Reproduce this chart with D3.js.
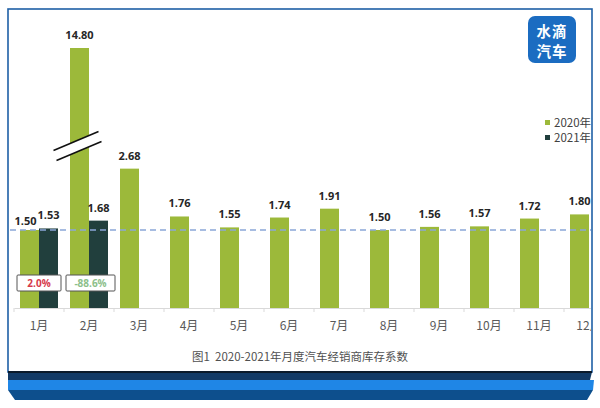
<!DOCTYPE html>
<html><head><meta charset="utf-8">
<script src="https://cdn.jsdelivr.net/npm/d3@7"></script>
<style>
html,body{margin:0;padding:0;background:#fff;}
svg{display:block;font-family:"Open Sans","Noto Sans CJK SC",sans-serif;}
</style></head>
<body><svg id="c" width="600" height="408"></svg>
<script>
const months = ["1月","2月","3月","4月","5月","6月","7月","8月","9月","10月","11月","12月"];
const series = ["2020年","2021年"];
const values2020 = [1.50,14.80,2.68,1.76,1.55,1.74,1.91,1.50,1.56,1.57,1.72,1.80];
const values2021 = [1.53,1.68,null,null,null,null,null,null,null,null,null,null];
const yoyLabels = ["2.0%","-88.6%"];
const yoyColors = ["#d63a4a","#8cc08a"];
const refValue = 1.5;
const colors = ["#9cb93a","#213f3d"];
const caption = "图1  2020-2021年月度汽车经销商库存系数";

const svg = d3.select("#c");
const baseY = 308;

// broken (piecewise) value scale: normal part up to 3.0, compressed above
const y = d3.scaleLinear().domain([0, 3.0, 14.8]).range([baseY, baseY - 3.0*52, 48]);
const x0 = d3.scaleBand().domain(months).range([14, 614]).padding(0);
const x1 = d3.scaleBand().domain(series).range([6, 44]).padding(0);

// frame
svg.append("rect").attr("x",8).attr("y",9).attr("width",584).attr("height",363)
  .attr("fill","#fff").attr("stroke","#1f5fa6").attr("stroke-width",1.6);

// bottom decorative bands
svg.append("path").attr("d","M8,372 L592,372 L590,380 L8,380 Z").attr("fill","#123a66");
svg.append("rect").attr("x",8).attr("y",371).attr("width",584).attr("height",2).attr("fill","#0b1a2a");
svg.append("path").attr("d","M8,380 L594,380 L593,390 L8,390 Z").attr("fill","#1f86e6");
svg.append("path").attr("d","M8,390 L593,390 L587,400 L15,400 Z").attr("fill","#0d4f8d");

const defs = svg.append("defs");
defs.append("clipPath").attr("id","clip").append("rect").attr("x",9).attr("y",10).attr("width",582).attr("height",361);
const g = svg.append("g").attr("clip-path","url(#clip)");

// axis
const axis = d3.axisBottom(x0).tickSize(0).tickPadding(13);
const ax = g.append("g").attr("transform",`translate(0,${baseY})`).call(axis);
ax.select(".domain").attr("stroke","#d9d9d9").attr("stroke-width",1);
ax.selectAll("text").attr("fill","#595959").attr("font-size",12).attr("font-family","'Noto Sans CJK SC','Open Sans',sans-serif");
// category boundary ticks
g.append("g").selectAll("line").data(months).join("line")
  .attr("x1",d=>x0(d)).attr("x2",d=>x0(d)).attr("y1",baseY).attr("y2",baseY+4)
  .attr("stroke","#d9d9d9");

// bars
const data = [];
months.forEach((m,i)=>{
  if(values2020[i]!=null) data.push({m, s:series[0], v:values2020[i], c:colors[0]});
  if(values2021[i]!=null) data.push({m, s:series[1], v:values2021[i], c:colors[1]});
});
g.append("g").selectAll("rect").data(data).join("rect")
  .attr("x",d=>x0(d.m)+x1(d.s)).attr("width",x1.bandwidth())
  .attr("y",d=>y(d.v)).attr("height",d=>baseY-y(d.v)).attr("fill",d=>d.c);

// break symbol on Feb 2020 bar
const bx = x0("2月")+x1("2020年")+x1.bandwidth()/2;
const by = y(4.2);
const bk = g.append("g").attr("transform",`translate(${bx},${by})`);
bk.append("path").attr("d","M-26,9 L19,-10 L22,0 L-23,19 Z").attr("fill","#fff");
bk.append("line").attr("x1",-26).attr("y1",9).attr("x2",19).attr("y2",-10).attr("stroke","#111").attr("stroke-width",1.6);
bk.append("line").attr("x1",-23).attr("y1",19).attr("x2",22).attr("y2",0).attr("stroke","#111").attr("stroke-width",1.6);

// reference dashed line
g.append("line").attr("x1",10).attr("x2",592).attr("y1",y(refValue)).attr("y2",y(refValue))
  .attr("stroke","#8aa6d8").attr("stroke-width",1.6).attr("stroke-dasharray","6,4");

// value labels
g.append("g").selectAll("text").data(data).join("text")
  .attr("x",d=>x0(d.m)+x1(d.s)+x1.bandwidth()/2 + (d.m==="1月"&&d.s==="2020年"?-4:0))
  .attr("y",d=>y(d.v)-(d.m==="1月"&&d.s==="2020年"?5:9))
  .attr("text-anchor","middle").attr("font-size",11).attr("font-weight","bold").attr("fill","#262626")
  .text(d=>d.v.toFixed(2));

// YoY boxes
const yo = g.append("g").selectAll("g").data(yoyLabels).join("g")
  .attr("transform",(d,i)=>`translate(${x0(months[i])+x0.bandwidth()/2 + (i===1?1.5:0)},283)`);
yo.append("rect").attr("x",(d,i)=>i===1?-24.5:-22).attr("y",-8).attr("width",(d,i)=>i===1?49:44).attr("height",16)
  .attr("fill","#fff").attr("stroke","#555").attr("stroke-width",1).attr("rx",1);
yo.append("text").attr("text-anchor","middle").attr("dy","0.35em").attr("font-size",10).attr("font-weight","bold")
  .attr("fill",(d,i)=>yoyColors[i]).text(d=>d);

// legend
const lg = g.append("g").selectAll("g").data(series).join("g")
  .attr("transform",(d,i)=>`translate(545,${123+i*15})`);
lg.append("rect").attr("x",0).attr("y",-3).attr("width",5).attr("height",5).attr("fill",(d,i)=>colors[i]);
lg.append("text").attr("x",9).attr("dy","0.36em").attr("font-size",11.5).attr("fill","#404040")
  .attr("font-family","'Noto Sans CJK SC','Open Sans',sans-serif").text(d=>d);

// logo
const lo = svg.append("g").attr("transform","translate(528,16)");
lo.append("rect").attr("width",48).attr("height",47).attr("rx",7).attr("fill","#1b6cc1");
lo.append("text").attr("x",24).attr("y",21).attr("text-anchor","middle").attr("font-size",14.5).attr("font-weight","bold")
  .attr("letter-spacing",1).attr("fill","#fff").attr("font-family","'Noto Sans CJK SC',sans-serif").text("水滴");
lo.append("text").attr("x",24).attr("y",41).attr("text-anchor","middle").attr("font-size",14.5).attr("font-weight","bold")
  .attr("letter-spacing",1).attr("fill","#fff").attr("font-family","'Noto Sans CJK SC',sans-serif").text("汽车");

// caption
svg.append("text").attr("x",192).attr("y",361).attr("font-size",11.5).attr("fill","#505050")
  .attr("font-family","'Noto Sans CJK SC','Open Sans',sans-serif").attr("xml:space","preserve").text(caption);
</script></body></html>
